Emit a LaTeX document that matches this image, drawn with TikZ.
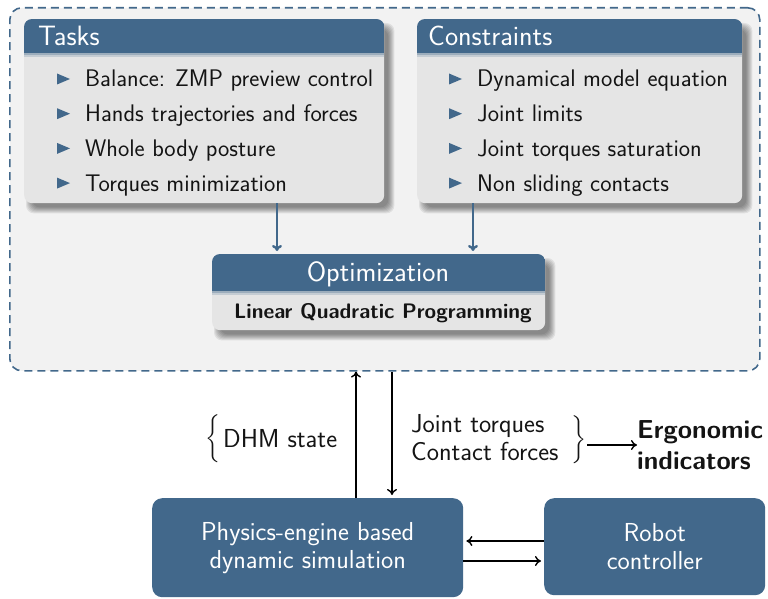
\documentclass[tikz,border=0pt]{standalone}
\usepackage{fontspec}
\usetikzlibrary{calc,arrows.meta}
\pgfdeclarelayer{backdrop}
\pgfdeclarelayer{shade}
\pgfsetlayers{backdrop,shade,main}

\definecolor{blockblue}{RGB}{66,104,139}
\definecolor{blockbody}{RGB}{229,229,229}
\definecolor{panelfill}{RGB}{242,242,242}
\definecolor{inktext}{RGB}{20,20,20}

\tikzset{
  panel/.style={draw=blockblue, fill=panelfill, line width=1.6pt,
    dash pattern=on 8pt off 5pt, rounded corners=12pt, inner sep=0pt, anchor=north west},
  blockframe/.style={fill=blockbody, rounded corners=8pt, inner sep=0pt, anchor=north west},
  headtext/.style={text=white, font=\sffamily\fontsize{28}{32}\selectfont, inner sep=0pt},
  itemtext/.style={text=inktext, inner sep=0pt, anchor=base west, font=\sffamily\fontsize{24}{28}\selectfont},
  plaintext/.style={text=inktext, inner sep=0pt},
  bracetext/.style={text=inktext, inner sep=0pt, scale=2, font=\fontsize{10}{12}\selectfont},
  flowblue/.style={draw=blockblue, line width=2.4pt, -{To[length=6pt,width=10pt]}, shorten >=3pt},
  flowblack/.style={draw=black, line width=1.4pt, -{To[length=6pt,width=10pt]}},
  solidbox/.style={fill=blockblue, rounded corners=10pt, text=white, align=center,
    inner sep=0pt, anchor=north west},
}

% soft drop shadow below and to the right of a block
\newcommand\softshadow[1]{%
  \begin{pgfonlayer}{shade}
  \foreach \i in {0,...,6}{%
    \fill[black, opacity=0.075, rounded corners=8pt]
      ($(#1.north west)+(2+\i,4+\i)$) rectangle ($(#1.south east)+(10-\i,10-\i)$);
  }
  \end{pgfonlayer}}

% coloured heading strip across the top of a block
\newcommand\headbar[2]{%
  \begin{scope}
    \clip[rounded corners=8pt] (#1.north west) rectangle (#1.south east);
    \fill[blockblue] (#1.north west) rectangle ($(#1.north east)+(0,#2)$);
    \fill[blockblue!45!blockbody] ($(#1.north west)+(0,#2)$) rectangle ($(#1.north east)+(0,#2+2)$);
    \fill[blockblue!20!blockbody] ($(#1.north west)+(0,#2+2)$) rectangle ($(#1.north east)+(0,#2+4)$);
  \end{scope}}

\begin{document}
\begin{tikzpicture}[x=1pt, y=-1pt, font=\sffamily\fontsize{26}{28}\selectfont]
\useasboundingbox (0,0) rectangle (768,599);

% dashed container of the optimisation part
\begin{pgfonlayer}{backdrop}
  \node[panel, minimum width=750pt, minimum height=363pt] (panel) at (9,7) {};
\end{pgfonlayer}

% blocks
\node[blockframe, minimum width=360pt, minimum height=184pt] (tasks) at (24,19) {};
\node[blockframe, minimum width=325pt, minimum height=184pt] (cons) at (417,19) {};
\node[blockframe, minimum width=333pt, minimum height=76pt] (opt) at (212,254) {};
\softshadow{tasks}
\softshadow{cons}
\softshadow{opt}
\headbar{tasks}{34}
\headbar{cons}{34}
\headbar{opt}{37}

\node[headtext, anchor=base west] (taskshead) at (38,46) {Tasks};
\node[headtext, anchor=base west] (conshead) at (428,46) {Constraints};
\node[headtext, anchor=base] (opthead) at (378,281) {Optimization};
\node[plaintext, anchor=base, font=\sffamily\bfseries\fontsize{21}{24}\selectfont] (lqp) at (383,318)
  {Linear Quadratic Programming};

% bullet lists
\foreach \txt [count=\k] in {Balance: ZMP preview control, Hands trajectories and forces,
    Whole body posture, Torques minimization}{
  \node[itemtext] (t\k) at (85,{87+34.7*(\k-1)}) {\txt};
  \fill[blockblue] ($(t\k.base west)+(-28,-13.5)$) -- ++(13,5.5) -- ++(-13,5.5) -- cycle;
}
\foreach \txt [count=\k] in {Dynamical model equation, Joint limits,
    Joint torques saturation, Non sliding contacts}{
  \node[itemtext] (c\k) at (477,{87+34.7*(\k-1)}) {\txt};
  \fill[blockblue] ($(c\k.base west)+(-28,-13.5)$) -- ++(13,5.5) -- ++(-13,5.5) -- cycle;
}

% arrows into the optimisation block
\coordinate (tx) at (277,0);
\coordinate (cx) at (473,0);
\draw[flowblue] (tasks.south -| tx) -- (opt.north -| tx);
\draw[flowblue] (cons.south -| cx) -- (opt.north -| cx);

% simulation and controller
\node[solidbox, minimum width=311pt, minimum height=99pt] (phys) at (152,498)
  {Physics-engine based\\dynamic simulation};
\node[solidbox, minimum width=221pt, minimum height=97pt] (robot) at (544,498)
  {Robot\\controller};

\coordinate (upx) at (356,0);
\coordinate (downx) at (392,0);
\draw[flowblack] (phys.north -| upx) -- (panel.south -| upx);
\draw[flowblack, shorten >=3pt] (panel.south -| downx) -- (phys.north -| downx);

\coordinate (ya) at (0,541);
\coordinate (yb) at (0,561);
\draw[flowblack, shorten >=3pt] (robot.west |- ya) -- (phys.east |- ya);
\draw[flowblack, shorten >=3pt] (phys.east |- yb) -- (robot.west |- yb);

% exchanged quantities
\node[plaintext, anchor=base west] (dhm) at (223,447) {DHM state};
\node[bracetext, anchor=east] (dhmbrace) at (223,440)
  {$\left\{\vrule height 10.5pt depth 10.5pt width 0pt\right.$};
\node[plaintext, anchor=base west] (jt) at (411,432) {Joint torques};
\node[plaintext, anchor=base west] (cf) at (411,460) {Contact forces};
\node[bracetext, anchor=west] (fbrace) at (569,441)
  {$\left.\vrule height 10.5pt depth 10.5pt width 0pt\right\}$};
\node[plaintext, anchor=west, align=left, font=\sffamily\bfseries\fontsize{26}{31}\selectfont]
  (erg) at (637,445) {Ergonomic\\indicators};
\draw[flowblack] (fbrace.east |- erg.west) -- (erg.west);

\end{tikzpicture}
\end{document}
